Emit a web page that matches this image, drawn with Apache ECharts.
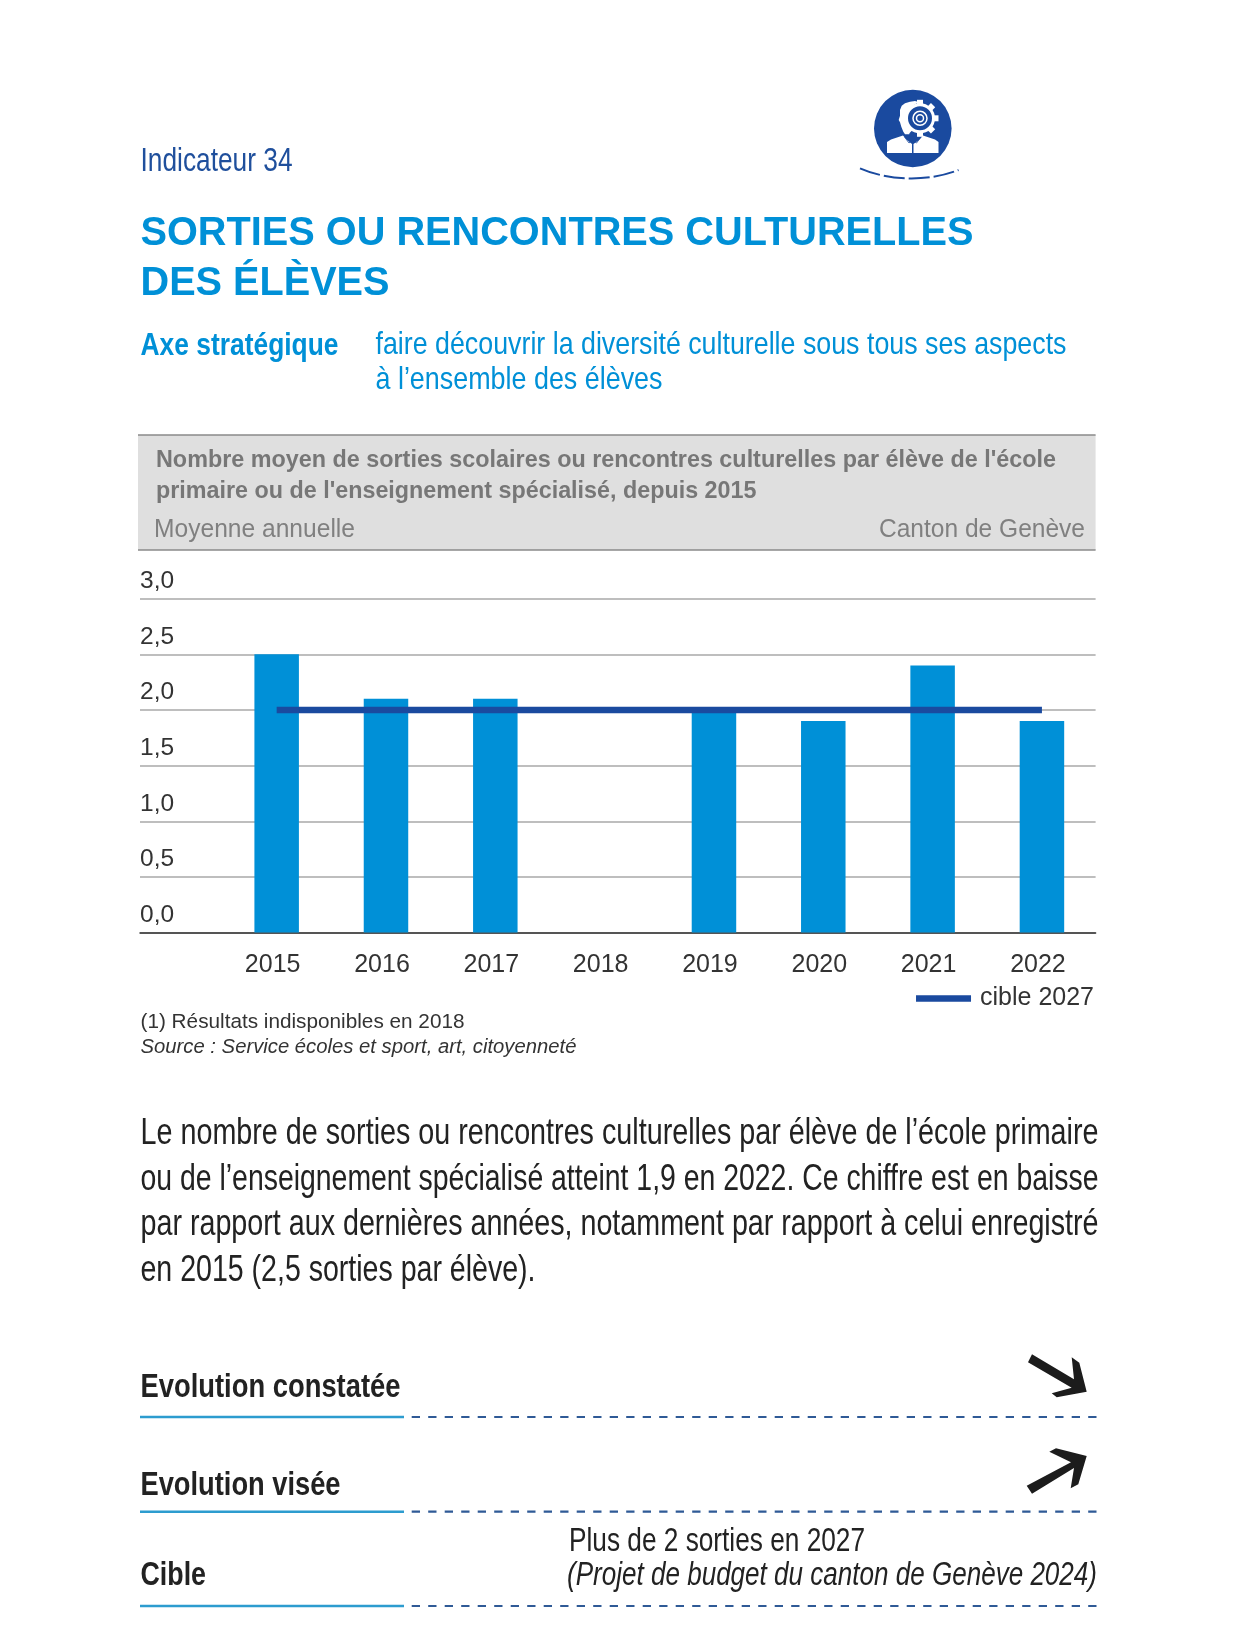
<!DOCTYPE html>
<html>
<head>
<meta charset="utf-8">
<title>Sorties ou rencontres culturelles des élèves</title>
<script src="https://cdn.jsdelivr.net/npm/echarts@6/dist/echarts.min.js"></script>
<style>
  html, body { margin: 0; padding: 0; background: #fff; }
  #chart { width: 1236px; height: 1627px; }
</style>
</head>
<body>
<div id="chart"></div>
<script>
var years = ['2015', '2016', '2017', '2018', '2019', '2020', '2021', '2022'];
var sorties = [2.5, 2.1, 2.1, null, 2.0, 1.9, 2.4, 1.9];
var cible = [2, 2, 2, 2, 2, 2, 2, 2];
var cibleName = 'cible 2027';

var FONT = '"Liberation Sans", Arial, sans-serif';
var BLUE = '#0090d7';
var NAVY = '#1a4a9f';
var INK = '#222222';

var measureCtx = document.createElement('canvas').getContext('2d');

// text squeezed to the width it has in the reference (the page uses a condensed face)
function fit(str, x, baseline, size, width, color, weight, style) {
  var font = (style || 'normal') + ' ' + (weight || 'normal') + ' ' + size + 'px ' + FONT;
  measureCtx.font = font;
  return {
    type: 'text',
    x: x,
    y: baseline - size * 0.347,
    scaleX: width / measureCtx.measureText(str).width,
    style: { text: str, font: font, fill: color, verticalAlign: 'middle' }
  };
}

function rule(y) {
  return [
    { type: 'line', shape: { x1: 140, y1: y, x2: 404, y2: y }, style: { stroke: '#2d9ccf', lineWidth: 2.5 } },
    { type: 'line', shape: { x1: 411.7, y1: y, x2: 1097.7, y2: y }, style: { stroke: '#2f5a96', lineWidth: 2.2, lineDash: [8.3, 8.2] } }
  ];
}

function shape(points, color) {
  return { type: 'polygon', shape: { points: points }, style: { fill: color } };
}

function gearTeeth(cx, cy) {
  var out = [];
  for (var i = 0; i < 8; i++) {
    var a = i * Math.PI / 4;
    out.push({
      type: 'line',
      shape: { x1: cx + Math.cos(a) * 12, y1: cy + Math.sin(a) * 12, x2: cx + Math.cos(a) * 18.5, y2: cy + Math.sin(a) * 18.5 },
      style: { stroke: '#fff', lineWidth: 6 }
    });
  }
  return out;
}

var icon = [
  { type: 'circle', shape: { cx: 912.8, cy: 128.5, r: 38.8 }, style: { fill: NAVY } },
  // head
  shape([[905, 103.3], [910, 101.7], [915, 101], [919.3, 102.3], [915, 104.3], [911.7, 106.7], [909.3, 111], [908.7, 116.7], [910, 122.3], [912.7, 126.7], [909.3, 130], [909.3, 134.3], [905, 134.3], [903.3, 131.7], [901.3, 126.7], [900, 122.3], [898.7, 120], [900, 115.7], [900, 110], [901.7, 105.7]], '#fff'),
  // shoulders
  shape([[887, 153], [887, 142], [891, 139.5], [903, 135.5], [907, 140], [912, 144], [912, 153]], '#fff'),
  shape([[913.5, 144], [919, 140], [923, 135.5], [935, 139.5], [938.5, 142], [938.5, 153], [913.5, 153]], '#fff'),
  // collar
  { type: 'polyline', shape: { points: [[904.5, 137], [909, 143], [912.7, 140], [916.5, 143], [921, 137]] }, style: { stroke: NAVY, lineWidth: 0.8, fill: null } }
].concat(gearTeeth(920, 118.3), [
  // gear
  { type: 'circle', shape: { cx: 920, cy: 118.3, r: 13.5 }, style: { fill: NAVY, stroke: '#fff', lineWidth: 3 } },
  { type: 'circle', shape: { cx: 920, cy: 118.3, r: 7 }, style: { fill: NAVY, stroke: '#fff', lineWidth: 1.5 } },
  { type: 'circle', shape: { cx: 920, cy: 118.3, r: 3.5 }, style: { fill: NAVY, stroke: '#fff', lineWidth: 1.5 } },
  { type: 'bezierCurve', shape: { x1: 860, y1: 168.3, cpx1: 890, cpy1: 181.5, cpx2: 930, cpy2: 181.5, x2: 958.5, y2: 170 }, style: { stroke: NAVY, lineWidth: 2, fill: null, lineDash: [21, 4] } }
]);

var pageTexts = [
  fit('Indicateur 34', 140.5, 173, 34, 152, '#1f4f9c'),
  fit('SORTIES OU RENCONTRES CULTURELLES', 140.5, 247.5, 40, 833, BLUE, 'bold'),
  fit('DES ÉLÈVES', 140.5, 298, 40, 249, BLUE, 'bold'),
  fit('Axe stratégique', 140.5, 357, 31, 198, BLUE, 'bold'),
  fit('faire découvrir la diversité culturelle sous tous ses aspects', 375.5, 356, 32, 691, BLUE),
  fit('à l’ensemble des élèves', 375.5, 391, 32, 287, BLUE),
  // chart header
  fit("Nombre moyen de sorties scolaires ou rencontres culturelles par élève de l'école", 156, 469, 24, 900, '#777777', 'bold'),
  fit("primaire ou de l'enseignement spécialisé, depuis 2015", 156, 499.5, 24, 600.5, '#777777', 'bold'),
  fit('Moyenne annuelle', 154, 539, 25, 201, '#808080'),
  fit('Canton de Genève', 879, 539, 25, 206, '#808080'),
  // notes
  fit('(1) Résultats indisponibles en 2018', 140.5, 1029, 20.5, 324, '#333333'),
  fit('Source : Service écoles et sport, art, citoyenneté', 140.5, 1054, 20.5, 436, '#333333', 'normal', 'italic'),
  // paragraph
  fit('Le nombre de sorties ou rencontres culturelles par élève de l’école primaire', 140.5, 1146.5, 36, 958, INK),
  fit('ou de l’enseignement spécialisé atteint 1,9 en 2022. Ce chiffre est en baisse', 140.5, 1193, 36, 958, INK),
  fit('par rapport aux dernières années, notamment par rapport à celui enregistré', 140.5, 1238, 36, 958, INK),
  fit('en 2015 (2,5 sorties par élève).', 140.5, 1284, 36, 395, INK),
  // bottom table
  fit('Evolution constatée', 140.5, 1399, 33, 260, INK, 'bold'),
  fit('Evolution visée', 140.5, 1497, 33, 200, INK, 'bold'),
  fit('Cible', 140.5, 1587, 33, 65.5, INK, 'bold'),
  fit('Plus de 2 sorties en 2027', 569, 1553, 33, 296, INK),
  fit('(Projet de budget du canton de Genève 2024)', 567, 1587, 33, 530, INK, 'normal', 'italic')
];

// trend arrows, traced as outlines from the reference
var arrows = [
  shape([[1032, 1354.3], [1074, 1379.3], [1071.7, 1357.3], [1079.3, 1362.7], [1086.7, 1391.7], [1056.7, 1397.3], [1051.7, 1393.3], [1071.7, 1387.7], [1028, 1362.3]], '#1c1c1c'),
  shape([[1026.7, 1485.7], [1071, 1462.3], [1049.3, 1451.7], [1056, 1448.3], [1086.7, 1456], [1078.3, 1484.3], [1070.7, 1488.3], [1074, 1468], [1032, 1493.7]], '#1c1c1c')
];

var myChart = echarts.init(document.getElementById('chart'), null, { renderer: 'canvas' });

myChart.setOption({
  animation: false,
  textStyle: { fontFamily: FONT },
  // first grid holds the value axis and full-width rules, second one the bars
  grid: [
    { left: 140, right: 140.4, top: 598.6, height: 334 },
    { left: 222, right: 139.4, top: 598.6, height: 334 }
  ],
  legend: {
    data: [cibleName],
    right: 142,
    top: 986,
    padding: 0,
    icon: 'rect',
    itemWidth: 55,
    itemHeight: 6.5,
    textStyle: { fontSize: 25, color: '#333333', fontFamily: FONT, padding: [0, 0, 0, 4] }
  },
  xAxis: [
    {
      gridIndex: 0,
      type: 'value',
      min: 0,
      max: 1,
      axisLabel: { show: false },
      axisTick: { show: false },
      splitLine: { show: false },
      axisLine: { show: true, lineStyle: { color: '#333333', width: 1.5 } }
    },
    {
      gridIndex: 1,
      type: 'category',
      data: years,
      axisTick: { show: false },
      axisLine: { show: false },
      axisLabel: { fontSize: 25, color: '#333333', margin: 20, padding: [0, 8, 0, 0], interval: 0 }
    }
  ],
  yAxis: [
    {
      gridIndex: 0,
      type: 'value',
      min: 0,
      max: 3,
      interval: 0.5,
      axisLine: { show: false },
      axisTick: { show: false },
      axisLabel: {
        inside: true,
        margin: 0,
        fontSize: 24.5,
        color: '#333333',
        verticalAlign: 'bottom',
        lineHeight: 35,
        formatter: function(v) { return v.toFixed(1).replace('.', ','); }
      },
      splitLine: { show: true, lineStyle: { color: '#a8a8a8', width: 1.5 } }
    },
    { gridIndex: 1, type: 'value', min: 0, max: 3, show: false }
  ],
  series: [
    {
      name: 'Sorties par élève',
      type: 'bar',
      xAxisIndex: 1,
      yAxisIndex: 1,
      barWidth: 44.5,
      data: sorties,
      itemStyle: { color: BLUE }
    },
    {
      name: cibleName,
      type: 'line',
      xAxisIndex: 1,
      yAxisIndex: 1,
      data: cible,
      symbol: 'none',
      z: 5,
      lineStyle: { color: NAVY, width: 6.5, cap: 'butt' },
      itemStyle: { color: NAVY }
    }
  ],
  graphic: [
    { type: 'rect', z: -1, silent: true, shape: { x: 138, y: 435, width: 957.6, height: 115 }, style: { fill: '#dfdfdf' } },
    { type: 'line', shape: { x1: 138, y1: 435, x2: 1095.6, y2: 435 }, style: { stroke: '#8a8a8a', lineWidth: 1.5 } },
    { type: 'line', shape: { x1: 138, y1: 550, x2: 1095.6, y2: 550 }, style: { stroke: '#8a8a8a', lineWidth: 1.5 } }
  ].concat(pageTexts, icon, rule(1417), rule(1511.7), rule(1606), arrows)
});

window.addEventListener('resize', myChart.resize);
</script>
</body>
</html>
